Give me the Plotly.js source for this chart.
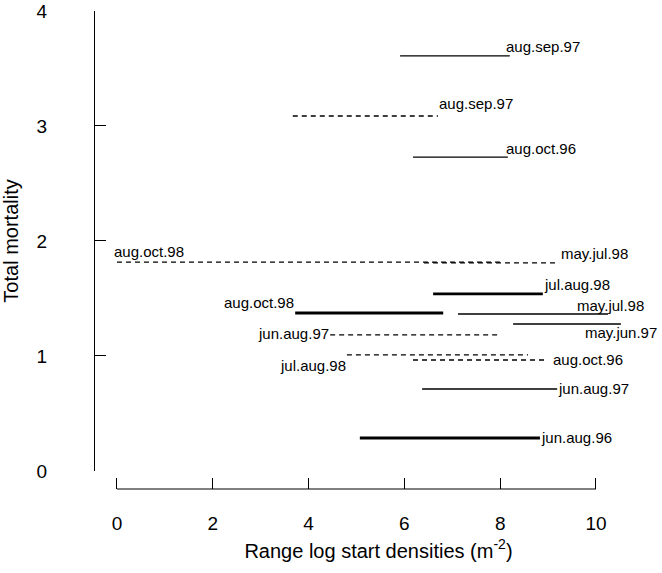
<!DOCTYPE html>
<html>
<head>
<meta charset="utf-8">
<script src="https://cdn.plot.ly/plotly-3.0.1.min.js"></script>
<style>html,body{margin:0;padding:0;background:#fff;}#chart{width:662px;height:573px;}</style>
</head>
<body>
<div id="chart"></div>
<script>
// ---- data ----
const labels = ["aug.sep.97","aug.sep.97","aug.oct.96","aug.oct.98","may.jul.98","jul.aug.98","aug.oct.98","may.jul.98","may.jun.97","jun.aug.97","jul.aug.98","aug.oct.96","jun.aug.97","jun.aug.96"];
const xStart = [5.91, 3.67, 6.18, 0.00, 6.41, 6.60, 3.72, 7.12, 8.27, 4.45, 4.80, 6.18, 6.37, 5.07];
const xEnd   = [8.20, 6.70, 8.16, 8.00, 9.23, 8.89, 6.81, 10.25, 10.52, 8.00, 8.58, 8.98, 9.19, 8.83];
const mortality = [3.61, 3.087, 2.73, 1.817, 1.81, 1.54, 1.374, 1.365, 1.278, 1.183, 1.01, 0.965, 0.713, 0.287];
const xTicks = [0, 2, 4, 6, 8, 10];
const yTicks = [0, 1, 2, 3, 4];

// ---- styles & label placement (not data) ----
const lineStyle = ["thin","dash","thin","dash","dash","thick","thick","thin","thin","dash","dash","dash","thin","thick"];
// side: which end of the segment the label is attached to; dx/dy pixel shifts
const labelPlace = [
  {side:"end",   anchor:"left",  dx:-5, dy:9},
  {side:"end",   anchor:"left",  dx:0,  dy:12},
  {side:"end",   anchor:"left",  dx:-3, dy:9},
  {side:"start", anchor:"left",  dx:-4, dy:11},
  {side:"end",   anchor:"left",  dx:1,  dy:9},
  {side:"end",   anchor:"left",  dx:0,  dy:9},
  {side:"start", anchor:"right", dx:0,  dy:10},
  {side:"end",   anchor:"right", dx:37, dy:9},
  {side:"end",   anchor:"right", dx:37, dy:-8},
  {side:"start", anchor:"right", dx:0,  dy:1},
  {side:"start", anchor:"right", dx:0,  dy:-11},
  {side:"end",   anchor:"left",  dx:5,  dy:1},
  {side:"end",   anchor:"left",  dx:0,  dy:0},
  {side:"end",   anchor:"left",  dx:0,  dy:0}
];

const FONT = "Liberation Sans, Arial, sans-serif";
const traces = labels.map((lab, i) => {
  const st = lineStyle[i];
  return {
    type: "scatter", mode: "lines",
    x: [xStart[i], xEnd[i]], y: [mortality[i], mortality[i]],
    line: {color: "#000", width: st === "thick" ? 2.8 : 1.3, dash: st === "dash" ? "5px,4px" : "solid"},
    hoverinfo: "skip", showlegend: false
  };
});

const annotations = labels.map((lab, i) => {
  const p = labelPlace[i];
  return {
    x: p.side === "end" ? xEnd[i] : xStart[i], y: mortality[i],
    xref: "x", yref: "y", text: lab, showarrow: false,
    xanchor: p.anchor, yanchor: "middle", xshift: p.dx, yshift: p.dy,
    font: {family: FONT, size: 15, color: "#000"}, borderpad: 0
  };
});

const layout = {
  width: 662, height: 573,
  margin: {l: 95, r: 0, t: 11, b: 84},
  paper_bgcolor: "#fff", plot_bgcolor: "#fff",
  font: {family: FONT, size: 20, color: "#000"},
  showlegend: false,
  xaxis: {
    range: [-0.459, 11.378], anchor: "free", position: 0,
    tickvals: xTicks, ticktext: xTicks.map(String),
    tickfont: {family: FONT, size: 19},
    ticks: "inside", ticklen: 11, tickwidth: 1, tickcolor: "#000",
    showline: false, showgrid: false, zeroline: false,
    ticklabelstandoff: 21,
    title: {text: "Range log start densities (m<sup>-2</sup>)", font: {family: FONT, size: 20}, standoff: 10}
  },
  yaxis: {
    range: [0, 4], domain: [0.0377, 1],
    tickvals: yTicks, ticktext: yTicks.map(String),
    tickfont: {family: FONT, size: 19},
    ticks: "inside", ticklen: 11, tickwidth: 1, tickcolor: "#000",
    showline: true, linecolor: "#000", linewidth: 1,
    showgrid: false, zeroline: false,
    ticklabelstandoff: 43,
    title: {text: "Total mortality", font: {family: FONT, size: 20}, standoff: 13}
  },
  shapes: [{type: "line", xref: "x", yref: "paper", x0: xTicks[0], x1: xTicks[xTicks.length-1], y0: 0, y1: 0, line: {color: "#000", width: 1}}],
  annotations: annotations
};

Plotly.newPlot("chart", traces, layout, {staticPlot: true, displayModeBar: false});
</script>
</body>
</html>
